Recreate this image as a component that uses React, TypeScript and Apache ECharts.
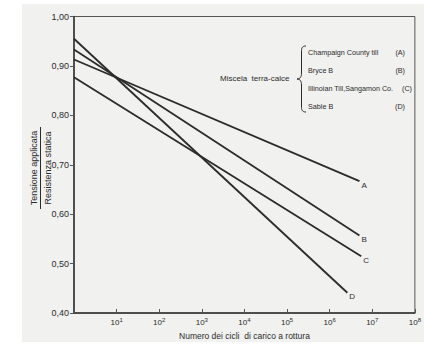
import React, { useEffect, useRef } from 'react';
import * as echarts from 'echarts';

const seriesNames = ['A', 'B', 'C', 'D'];
const startCycles = [1, 1, 1, 1];
const startValues = [0.913, 0.933, 0.877, 0.955];
const endCycles = [5e6, 5e6, 5.5e6, 2.6e6];
const endValues = [0.667, 0.557, 0.515, 0.441];

const legendTitle = 'Miscela  terra-calce';
const legendSoils = ['Champaign County till', 'Bryce B', 'Illinoian Till,Sangamon Co.', 'Sable B'];
const legendCodes = ['(A)', '(B)', '(C)', '(D)'];
const xTitle = 'Numero dei cicli  di carico a rottura';
const yTitleTop = 'Tensione applicata';
const yTitleBottom = 'Resistenza statica';

const FONT = '"Liberation Sans", Arial, sans-serif';
const INK = '#2b2b2b';

let braceRegistered = false;
function registerBrace() {
  if (braceRegistered) return;
  const d = 'M9,0 C5,0 4.5,2 4.5,6 L4.5,27 C4.5,31 3,33 0,33 C3,33 4.5,35 4.5,39 L4.5,60 C4.5,64 5,66 9,66';
  echarts.graphic.registerShape('brace', echarts.graphic.extendPath(d, {}));
  braceRegistered = true;
}

export default function App() {
  const ref = useRef<HTMLDivElement>(null);
  useEffect(() => {
    if (!ref.current) return;
    registerBrace();
    const chart = echarts.init(ref.current, undefined, { renderer: 'svg' });
    const rowY = [52, 70, 88, 106];
    const codeX = [405, 405, 412, 405];
    const graphics: any[] = [
      {
        type: 'text', left: 220, top: 74,
        style: { text: legendTitle, font: `8px ${FONT}`, fill: INK },
      },
      {
        type: 'brace', x: 297, y: 46,
        style: { stroke: INK, fill: 'none', lineWidth: 1 },
      },
      {
        type: 'text', x: 34, y: 168, rotation: Math.PI / 2,
        style: { text: yTitleTop, font: `9px ${FONT}`, fill: INK, align: 'center', verticalAlign: 'middle' },
      },
      {
        type: 'line', shape: { x1: 40.5, y1: 127, x2: 40.5, y2: 209 },
        style: { stroke: INK, lineWidth: 1 },
      },
      {
        type: 'text', x: 47.5, y: 168, rotation: Math.PI / 2,
        style: { text: yTitleBottom, font: `9px ${FONT}`, fill: INK, align: 'center', verticalAlign: 'middle' },
      },
    ];
    legendSoils.forEach((s, i) => {
      graphics.push({
        type: 'text', x: 308, y: rowY[i],
        style: { text: s, font: `7.2px ${FONT}`, fill: INK, align: 'left', verticalAlign: 'middle' },
      });
      graphics.push({
        type: 'text', x: codeX[i], y: rowY[i],
        style: { text: legendCodes[i], font: `7.2px ${FONT}`, fill: INK, align: 'right', verticalAlign: 'middle' },
      });
    });

    chart.setOption({
      animation: false,
      backgroundColor: 'transparent',
      textStyle: { fontFamily: FONT },
      grid: {
        left: 74, top: 16.5, right: 9, bottom: 34,
        show: true, borderColor: '#555', borderWidth: 1, backgroundColor: 'transparent',
      },
      xAxis: {
        type: 'log', logBase: 10, min: 1, max: 1e8, interval: 1,
        name: xTitle, nameLocation: 'middle', nameGap: 15,
        nameTextStyle: { fontSize: 8.5, color: INK, fontFamily: FONT },
        axisLine: { lineStyle: { color: '#333', width: 1.5 } },
        axisTick: { inside: true, length: 4, lineStyle: { color: '#555' } },
        splitLine: { show: false },
        axisLabel: {
          margin: 4, color: INK, fontSize: 8,
          formatter: (v: number) => {
            const n = Math.round(Math.log10(v));
            if (n === 0) return '';
            return `{b|10}{s|${n}}`;
          },
          rich: {
            b: { fontSize: 8, color: INK, fontFamily: FONT },
            s: { fontSize: 6, color: INK, fontFamily: FONT, padding: [0, 0, 5, 0] },
          },
        },
      },
      yAxis: {
        type: 'value', min: 0.4, max: 1.0, interval: 0.1,
        axisLine: { show: true, lineStyle: { color: '#333', width: 1.5 } },
        axisTick: { show: true, inside: false, length: 4, lineStyle: { color: '#555' } },
        splitLine: { show: false },
        axisLabel: {
          margin: 5, color: INK, fontSize: 9,
          formatter: (v: number) => v.toFixed(2).replace('.', ','),
        },
      },
      series: seriesNames.map((name, i) => ({
        type: 'line',
        name,
        data: [[startCycles[i], startValues[i]], [endCycles[i], endValues[i]]],
        symbol: 'none',
        lineStyle: { color: INK, width: 1.8 },
        endLabel: {
          show: true, formatter: name, distance: 2, offset: [0, 4],
          fontSize: 8, color: INK, fontFamily: FONT,
        },
      })),
      graphic: graphics,
    });
    return () => chart.dispose();
  }, []);

  return (
    <div style={{ position: 'absolute', left: 0, top: 0, width: 424, height: 347, background: '#fff' }}>
      <div style={{ position: 'absolute', left: 22, top: 4, width: 402, height: 338, background: '#f1f1ef' }} />
      <div ref={ref} style={{ position: 'absolute', left: 0, top: 0, width: 424, height: 347 }} />
    </div>
  );
}
